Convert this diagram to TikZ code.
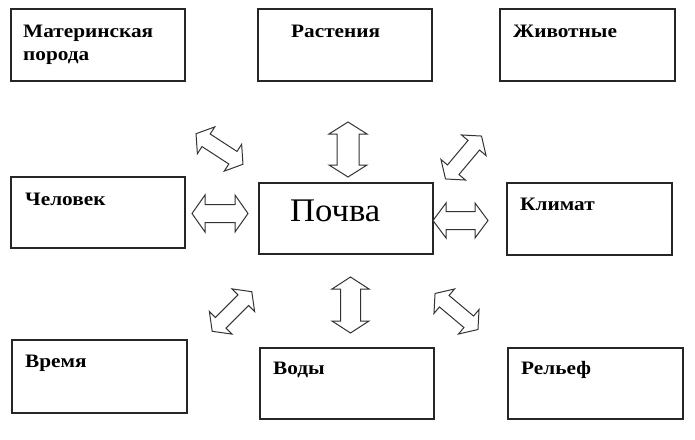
\documentclass[tikz,border=0pt]{standalone}
\usepackage{fontspec}
\setmainfont{Liberation Serif}
\newfontfamily\lblfont{Liberation Serif}[FakeStretch=1.12]
\newfontfamily\bigfont{Liberation Serif}[FakeStretch=1.05]
\begin{document}
\begin{tikzpicture}[x=1pt,y=-1pt,
  box/.style={draw=black!85,line width=1.3pt},
  lbl/.style={anchor=base west,inner sep=0pt,font=\lblfont\bfseries\fontsize{19}{23}\selectfont,align=left},
  arr/.style={draw=black!80,line width=1pt,fill=white,line join=miter}]
\useasboundingbox (0,0) rectangle (695,439);
\newcommand\dblarr[6]{%
  \draw[arr,shift={(#1)},rotate=#2]
    (-#3,0) -- (-#3+#4,#5) -- (-#3+#4,#6) -- (#3-#4,#6) -- (#3-#4,#5) -- (#3,0)
    -- (#3-#4,-#5) -- (#3-#4,-#6) -- (-#3+#4,-#6) -- (-#3+#4,-#5) -- cycle;}
% boxes
\draw[box] (11,9) rectangle (185,81);
\coordinate (mat) at (11,9);
\draw[box] (258,9) rectangle (432,81);
\coordinate (rast) at (258,9);
\draw[box] (500,9) rectangle (675,81);
\coordinate (zhiv) at (500,9);
\draw[box] (11,177) rectangle (185,248);
\coordinate (chel) at (11,177);
\draw[box] (259,183) rectangle (433,254);
\coordinate (poch) at (259,183);
\draw[box] (507,183) rectangle (672,255);
\coordinate (klim) at (507,183);
\draw[box] (12,340) rectangle (187,413);
\coordinate (vrem) at (12,340);
\draw[box] (260,348) rectangle (434,419);
\coordinate (vody) at (260,348);
\draw[box] (508,348) rectangle (683,419);
\coordinate (rel) at (508,348);
% labels
\node[lbl] (tmat) at (23,60) {Материнская\\порода};
\node[lbl] (trast) at (291,37) {Растения};
\node[lbl] (tzhiv) at (513,37) {Животные};
\node[lbl] (tchel) at (25,205) {Человек};
\node[anchor=base west,inner sep=0pt,font=\bigfont\fontsize{33}{36}\selectfont] (tpoch) at (290,221) {Почва};
\node[lbl] (tklim) at (520,210) {Климат};
\node[lbl] (tvrem) at (25,367) {Время};
\node[lbl] (tvody) at (273,374) {Воды};
\node[lbl] (trel) at (521,374) {Рельеф};
% arrows
\coordinate (a1) at (348,149.5);
\coordinate (a2) at (220,213.5);
\coordinate (a3) at (460.5,220.5);
\coordinate (a4) at (350.5,305);
\coordinate (a5) at (219.5,149);
\coordinate (a6) at (463.5,157.5);
\coordinate (a7) at (232,311.5);
\coordinate (a8) at (456.5,311.5);
\dblarr{a1}{90}{27.5}{12}{19}{11}
\dblarr{a2}{0}{28}{13}{18.5}{9}
\dblarr{a3}{0}{27.5}{13}{17.5}{9}
\dblarr{a4}{90}{28}{12}{18.5}{10}
\dblarr{a5}{-33}{28}{12}{16}{7.5}
\dblarr{a6}{50}{28}{12}{16}{7.5}
\dblarr{a7}{45}{28}{12}{16}{7.5}
\dblarr{a8}{-40}{28}{12}{16}{7.5}
\end{tikzpicture}
\end{document}
